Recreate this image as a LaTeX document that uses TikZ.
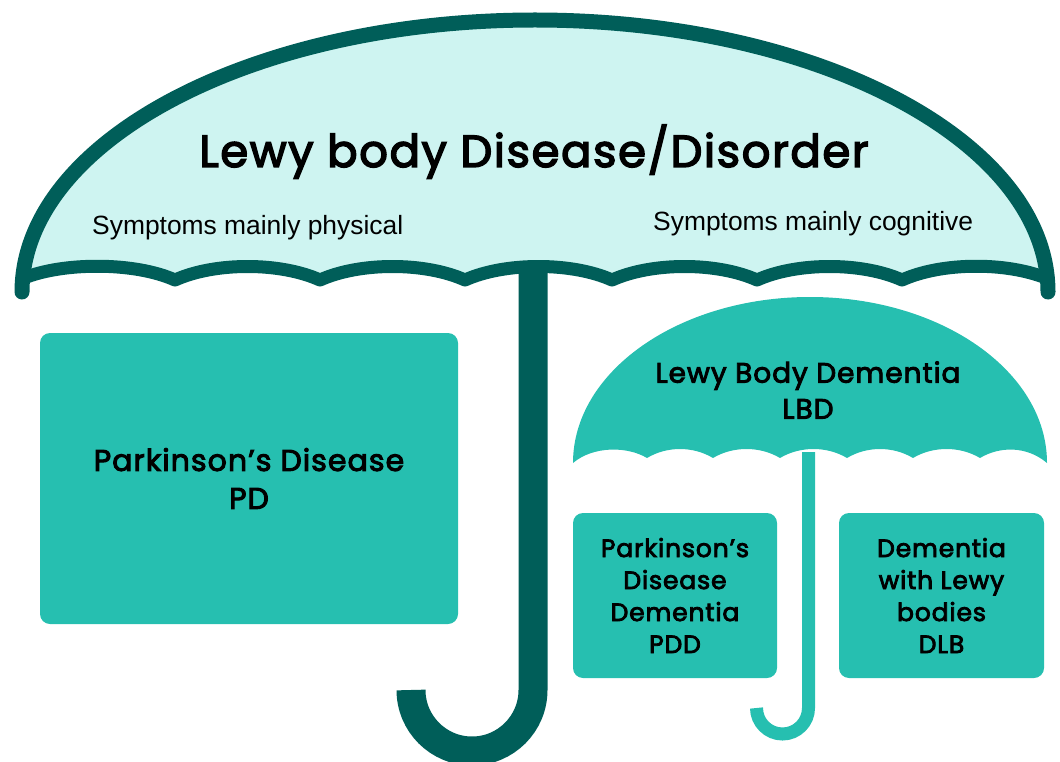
\documentclass[tikz,border=0pt]{standalone}
\usepackage{fontspec}
\setmainfont{Poppins}
\newfontfamily\geofont{Poppins}[FakeBold=3.2, LetterSpace=3.5]
\newfontfamily\arialfont{Liberation Sans}
\definecolor{darkteal}{RGB}{0,94,89}
\definecolor{midteal}{RGB}{38,191,176}
\definecolor{lightteal}{RGB}{206,244,241}
\tikzset{
  boxstyle/.style={fill=midteal, rounded corners=10pt, inner sep=0pt, align=center, text=black},
  geo/.style={text=black, align=center, inner sep=0pt},
  sympt/.style={font=\arialfont\fontsize{26.4}{30}\selectfont, text=black, inner sep=0pt},
}
\begin{document}
\begin{tikzpicture}[x=1pt,y=-1pt]
\useasboundingbox (0,0) rectangle (1060,762);
% ---- big umbrella canopy
\fill[lightteal] (24,278)
  .. controls (64,262) and (135,262) .. (175,280)
  .. controls (215,262) and (280,262) .. (320,280)
  .. controls (360,262) and (425,262) .. (465,280)
  .. controls (505,262) and (572,262) .. (612,280)
  .. controls (652,262) and (717,262) .. (757,280)
  .. controls (797,262) and (862,262) .. (902,280)
  .. controls (942,262) and (1006,262) .. (1046,278)
  arc[start angle=-2.95, end angle=-177.05, x radius=513, y radius=272] -- cycle;
\draw[darkteal, line width=15, line cap=round] (1048,292)
  arc[start angle=0, end angle=-180, x radius=513, y radius=272];
\draw[darkteal, line width=13, line join=round, line cap=round] (24,278)
  .. controls (64,262) and (135,262) .. (175,280)
  .. controls (215,262) and (280,262) .. (320,280)
  .. controls (360,262) and (425,262) .. (465,280)
  .. controls (505,262) and (572,262) .. (612,280)
  .. controls (652,262) and (717,262) .. (757,280)
  .. controls (797,262) and (862,262) .. (902,280)
  .. controls (942,262) and (1006,262) .. (1046,278);
% big shaft and hook
\draw[darkteal, line width=29] (533,268) -- (533,690)
  arc[start angle=0, end angle=180, radius=61];
% ---- small umbrella canopy
\fill[midteal] (573,463)
  .. controls (593,446) and (627,446) .. (647,458)
  .. controls (667,446) and (693,446) .. (713,458)
  .. controls (733,446) and (760,446) .. (780,458)
  .. controls (800,446) and (827,446) .. (847,458)
  .. controls (867,446) and (893,446) .. (913,458)
  .. controls (933,446) and (960,446) .. (980,458)
  .. controls (1000,446) and (1027,446) .. (1047,463)
  arc[start angle=0, end angle=-180, x radius=237, y radius=166] -- cycle;
\draw[midteal, line width=13] (808.5,452) -- (808.5,708)
  arc[start angle=0, end angle=180, radius=26];
% ---- texts
\node[geo, font=\geofont\fontsize{45}{50}\selectfont, anchor=base] (title) at (534,167) {Lewy body Disease/Disorder};
\node[sympt, anchor=base west] (phys) at (92,234) {Symptoms mainly physical};
\node[sympt, anchor=base west] (cogn) at (653,231) {Symptoms mainly cognitive};
\node[geo, font=\geofont\fontsize{28}{36}\selectfont] (lbd) at (808,390) {Lewy Body Dementia\\LBD};
% ---- boxes
\node[boxstyle, minimum width=418, minimum height=291, font=\geofont\fontsize{30}{38}\selectfont] (pd) at (249,478.5) {Parkinson’s Disease\\PD};
\node[boxstyle, minimum width=204, minimum height=165, font=\geofont\fontsize{25}{32}\selectfont] (pdd) at (675,595.5) {Parkinson’s\\Disease\\Dementia\\PDD};
\node[boxstyle, minimum width=205, minimum height=165, font=\geofont\fontsize{25}{32}\selectfont] (dlb) at (941.5,595.5) {Dementia\\with Lewy\\bodies\\DLB};
\end{tikzpicture}
\end{document}
